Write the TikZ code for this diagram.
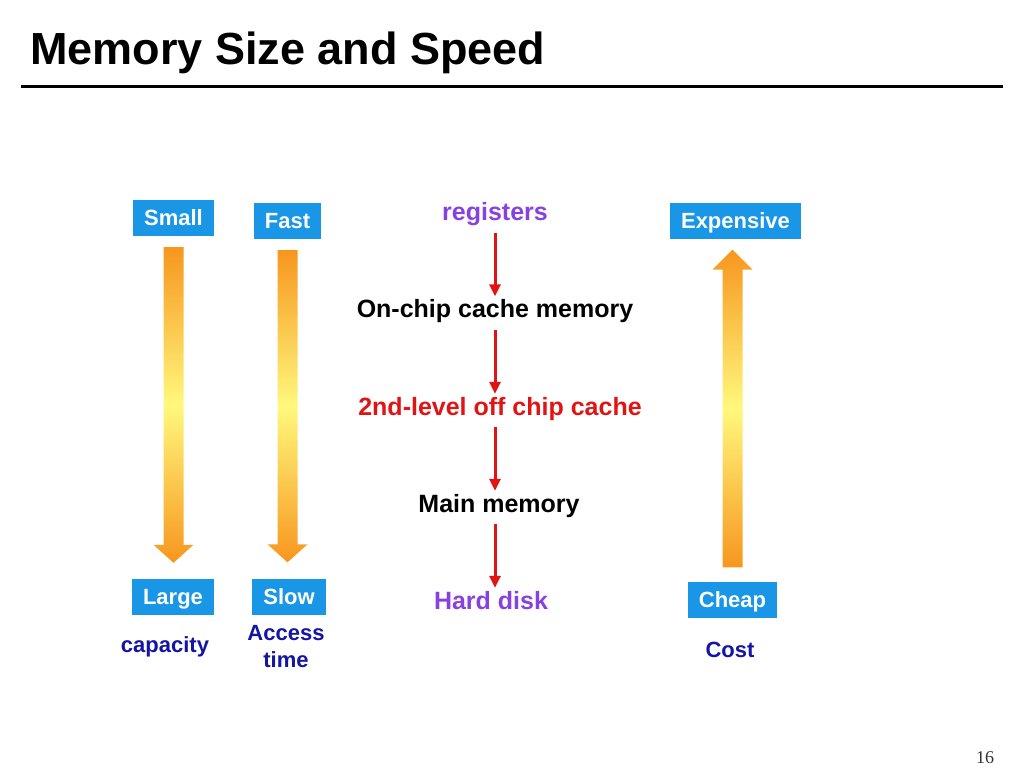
\documentclass[tikz,border=0pt]{standalone}
\usepackage{fontspec}
\setmainfont{Liberation Sans}
\newfontfamily\pagefont{Liberation Serif}
\usetikzlibrary{arrows.meta,calc}
\definecolor{boxblue}{RGB}{25,150,230}
\definecolor{capblue}{RGB}{20,20,165}
\definecolor{levelpurple}{RGB}{135,65,225}
\definecolor{levelred}{RGB}{225,20,20}
\definecolor{arroworange}{RGB}{247,150,30}
\definecolor{arrowyellow}{RGB}{255,248,125}

\begin{document}
\begin{tikzpicture}[x=1pt,y=-1pt,
    box/.style={fill=boxblue, text=white, font=\fontsize{22}{26}\selectfont\bfseries,
      inner xsep=11pt, minimum height=36pt, text height=16pt, text depth=1pt},
    caption/.style={text=capblue, font=\fontsize{22}{27}\selectfont\bfseries, align=center},
    level/.style={font=\fontsize{25}{30}\selectfont\bfseries, inner sep=3pt,
      text height=18pt, text depth=5pt},
    levelarrow/.style={levelred, line width=3pt, -{Triangle[width=11pt,length=12pt]}, shorten <=4pt},
    fatarrow/.style={top color=arroworange, bottom color=arroworange, middle color=arrowyellow}]
    \useasboundingbox (0,0) rectangle (1024,768);

    % Titol i linia
    \node[anchor=base west, inner sep=0, font=\fontsize{45}{54}\selectfont\bfseries] (title) at (30,64) {Memory Size and Speed};
    \draw[line width=3pt] (21,86) -- (1003,86);

    % Nivells de memoria
    \node[level, text=levelpurple] (reg) at (495,214) {registers};
    \node[level] (onchip) at (495,311) {On-chip cache memory};
    \node[level, text=levelred] (offchip) at (500,408.5) {2nd-level off chip cache};
    \node[level] (main) at (499,505.5) {Main memory};
    \node[level, text=levelpurple] (disk) at (491,602.5) {Hard disk};
    \foreach \a/\b in {reg/onchip, onchip/offchip, offchip/main, main/disk}
        \draw[levelarrow] (\a.south -| reg) -- (\b.north -| reg);

    % Caixes blaves
    \node[box] (small) at (173.5,218) {Small};
    \node[box] (fast) at (287.5,221) {Fast};
    \node[box] (expensive) at (735.5,220.5) {Expensive};
    \node[box] (large) at (173,597) {Large};
    \node[box] (slow) at (289,596.5) {Slow};
    \node[box] (cheap) at (732.5,599.5) {Cheap};

    % Fletxes grosses
    \foreach \a/\b in {small/large, fast/slow}
        \shade[fatarrow] let \p1=(\a.south), \p2=(\b.north) in
            (\x1-10pt,\y1-11pt) -- (\x1+10pt,\y1-11pt) -- (\x1+10pt,\y2+34pt) -- (\x1+20pt,\y2+34pt)
            -- (\x1,\y2+16pt) -- (\x1-20pt,\y2+34pt) -- (\x1-10pt,\y2+34pt) -- cycle;
    \shade[fatarrow] let \p1=(cheap.north), \p2=(expensive.south) in
        (\x1-10pt,\y1+14pt) -- (\x1+10pt,\y1+14pt) -- (\x1+10pt,\y2-31pt) -- (\x1+20pt,\y2-31pt)
        -- (\x1,\y2-11pt) -- (\x1-20pt,\y2-31pt) -- (\x1-10pt,\y2-31pt) -- cycle;

    % Etiquetes
    \node[caption] (capacity) at (165,647) {capacity};
    \node[caption] (access) at (286,646.5) {Access\\time};
    \node[caption] (cost) at (730,650) {Cost};

    \node[font=\pagefont\fontsize{18}{20}\selectfont, text=black!80, anchor=base] (page) at (985,763) {16};
\end{tikzpicture}
\end{document}
